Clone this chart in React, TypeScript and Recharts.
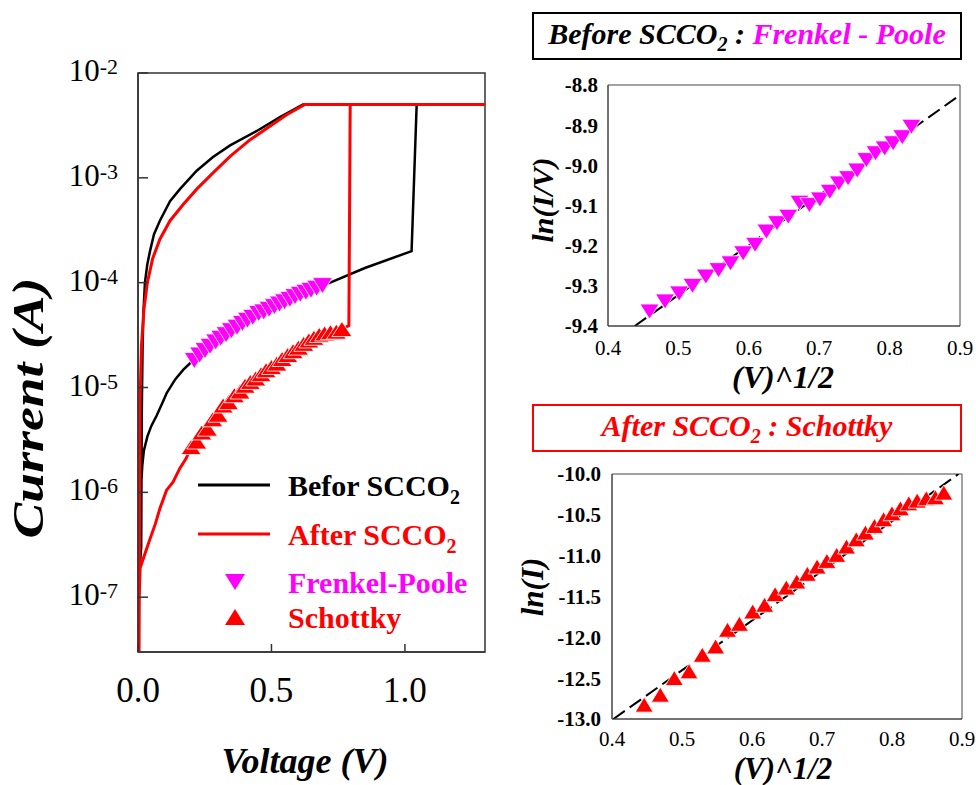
import React from 'react'
import {
  ComposedChart,
  Line,
  Scatter,
  XAxis,
  YAxis,
  ReferenceArea,
  Legend,
} from 'recharts'

const SERIF = '"Liberation Serif", "Times New Roman", Tinos, serif'
const MAGENTA = '#ff00ff'
const RED = '#ff0000'

// main I-V sweep (V, A) — sweep up then back down
const beforV = [0.001, 0.005, 0.012, 0.013, 0.016, 0.022, 0.035, 0.05, 0.07, 0.09, 0.108, 0.14, 0.17, 0.2, 0.3, 0.4, 0.5, 0.6, 0.69, 0.72, 0.85, 1.025, 1.044, 1.3, 0.618, 0.532, 0.445, 0.345, 0.281, 0.22, 0.157, 0.12, 0.082, 0.06, 0.045, 0.035, 0.026, 0.02, 0.017, 0.014, 0.013]
const beforI = [4e-8, 1.7e-7, 3e-7, 1.3e-6, 1.8e-6, 2.5e-6, 3.4e-6, 4.3e-6, 5.4e-6, 7e-6, 8.9e-6, 1.2e-5, 1.48e-5, 1.75e-5, 2.8e-5, 4.1e-5, 5.6e-5, 7.4e-5, 9.4e-5, 1.0e-4, 1.38e-4, 2.0e-4, 5e-3, 5e-3, 5e-3, 3.8e-3, 2.8e-3, 2.04e-3, 1.58e-3, 1.17e-3, 7.8e-4, 6.0e-4, 3.9e-4, 2.9e-4, 2.0e-4, 1.5e-4, 1.0e-4, 5e-5, 2.3e-5, 5.2e-6, 1.3e-6]

const afterV = [0.001, 0.004, 0.008, 0.026, 0.045, 0.065, 0.082, 0.107, 0.131, 0.157, 0.18, 0.199, 0.26, 0.32, 0.4, 0.48, 0.56, 0.64, 0.7, 0.764, 0.79, 0.795, 1.3, 0.625, 0.557, 0.494, 0.419, 0.345, 0.282, 0.22, 0.17, 0.12, 0.082, 0.055, 0.035, 0.022, 0.013, 0.008, 0.006, 0.005, 0.004]
const afterI = [3e-8, 9e-8, 1.9e-7, 2.6e-7, 3.6e-7, 5.0e-7, 7.0e-7, 1.05e-6, 1.25e-6, 1.7e-6, 2.1e-6, 2.7e-6, 4.0e-6, 6.7e-6, 1.04e-5, 1.46e-5, 2.04e-5, 2.8e-5, 3.28e-5, 3.6e-5, 3.9e-5, 5e-3, 5e-3, 5e-3, 4.0e-3, 3.1e-3, 2.3e-3, 1.6e-3, 1.12e-3, 7.8e-4, 5.6e-4, 3.9e-4, 2.6e-4, 1.7e-4, 1.0e-4, 5.5e-5, 2.5e-5, 8e-6, 1e-6, 1.5e-7, 3e-8]

// fitted points shown on the I-V plot
const fpV = [0.211, 0.231, 0.251, 0.27, 0.291, 0.31, 0.33, 0.35, 0.371, 0.391, 0.41, 0.43, 0.452, 0.471, 0.491, 0.511, 0.53, 0.549, 0.569, 0.588, 0.608, 0.629, 0.648, 0.669, 0.691]
const fpI = [1.81e-5, 2.04e-5, 2.25e-5, 2.47e-5, 2.72e-5, 2.95e-5, 3.19e-5, 3.48e-5, 3.76e-5, 4.09e-5, 4.38e-5, 4.67e-5, 5.08e-5, 5.26e-5, 5.57e-5, 5.91e-5, 6.25e-5, 6.56e-5, 6.93e-5, 7.36e-5, 7.74e-5, 8.09e-5, 8.45e-5, 8.86e-5, 9.38e-5]
const skV = [0.199, 0.22, 0.239, 0.26, 0.28, 0.3, 0.319, 0.339, 0.361, 0.382, 0.401, 0.421, 0.441, 0.461, 0.48, 0.5, 0.52, 0.54, 0.561, 0.581, 0.601, 0.621, 0.64, 0.659, 0.679, 0.699, 0.721, 0.743, 0.764]
const skI = [2.7e-6, 3.05e-6, 3.73e-6, 4.05e-6, 4.97e-6, 5.5e-6, 6.74e-6, 7.25e-6, 8.44e-6, 9.16e-6, 1.04e-5, 1.13e-5, 1.22e-5, 1.34e-5, 1.46e-5, 1.57e-5, 1.69e-5, 1.87e-5, 2.04e-5, 2.22e-5, 2.4e-5, 2.61e-5, 2.81e-5, 2.98e-5, 3.17e-5, 3.28e-5, 3.37e-5, 3.41e-5, 3.61e-5]

// insets: x = V^1/2
const fpS = [0.459, 0.481, 0.501, 0.52, 0.539, 0.557, 0.574, 0.592, 0.609, 0.625, 0.64, 0.656, 0.672, 0.686, 0.701, 0.715, 0.728, 0.741, 0.754, 0.767, 0.78, 0.793, 0.805, 0.818, 0.831]
const fpLn = [-9.364, -9.339, -9.319, -9.3, -9.277, -9.261, -9.244, -9.219, -9.198, -9.165, -9.144, -9.128, -9.093, -9.099, -9.085, -9.066, -9.045, -9.032, -9.013, -8.987, -8.97, -8.958, -8.945, -8.93, -8.904]
const fpFitS = [0.438, 0.9]
const fpFitLn = [-9.4, -8.825]

const skS = [0.446, 0.469, 0.489, 0.51, 0.529, 0.548, 0.565, 0.582, 0.601, 0.618, 0.633, 0.649, 0.664, 0.679, 0.693, 0.707, 0.721, 0.735, 0.749, 0.762, 0.775, 0.788, 0.8, 0.812, 0.824, 0.836, 0.849, 0.862, 0.874]
const skLn = [-12.824, -12.702, -12.498, -12.416, -12.213, -12.111, -11.907, -11.834, -11.683, -11.601, -11.471, -11.39, -11.316, -11.222, -11.133, -11.064, -10.99, -10.888, -10.799, -10.717, -10.636, -10.554, -10.481, -10.42, -10.359, -10.326, -10.297, -10.285, -10.228]
const skFitS = [0.402, 0.895]
const skFitLn = [-13.0, -10.0]

const vTicks = [0, 0.5, 1.0]
const iTicks = [1e-7, 1e-6, 1e-5, 1e-4, 1e-3, 1e-2]
const sTicks = [0.4, 0.5, 0.6, 0.7, 0.8, 0.9]
const fpLnTicks = [-9.4, -9.3, -9.2, -9.1, -9.0, -8.9, -8.8]
const skLnTicks = [-13.0, -12.5, -12.0, -11.5, -11.0, -10.5, -10.0]

const zipVI = (v: number[], i: number[]) => v.map((x, k) => ({ v: x, i: i[k] }))
const zipSY = (s: number[], y: number[]) => s.map((x, k) => ({ s: x, y: y[k] }))

const beforData = zipVI(beforV, beforI)
const afterData = zipVI(afterV, afterI)
const fpData = zipVI(fpV, fpI)
const skData = zipVI(skV, skI)
const fpInset = zipSY(fpS, fpLn)
const fpFit = zipSY(fpFitS, fpFitLn)
const skInset = zipSY(skS, skLn)
const skFit = zipSY(skFitS, skFitLn)

function tri(cx: number, cy: number, w: number, h: number, down: boolean) {
  const a = down ? cy - h / 2 : cy + h / 2
  const b = down ? cy + h / 2 : cy - h / 2
  return `M${cx - w / 2},${a} L${cx + w / 2},${a} L${cx},${b} Z`
}

const downTri = (w: number, h: number, color: string) => (p: any) => (
  <path d={tri(p.cx, p.cy, w, h, true)} fill={color} stroke="#fff" strokeWidth={0.8} />
)
const upTri = (w: number, h: number, color: string) => (p: any) => (
  <path d={tri(p.cx, p.cy, w, h, false)} fill={color} stroke="#fff" strokeWidth={0.8} />
)

function LogTick(props: any) {
  const { x, y, payload } = props
  const exp = Math.round(Math.log10(payload.value))
  return (
    <g>
      <line x1={x} x2={x + 10} y1={y} y2={y} stroke="#333" strokeWidth={1.5} />
      <text x={x - 20} y={y + 8} textAnchor="end" fontSize={31} fill="#000" fontFamily={SERIF}>
        10<tspan fontSize={22} dy={-7}>{exp}</tspan>
      </text>
    </g>
  )
}

function VTick(props: any) {
  const { x, y, payload } = props
  return (
    <g>
      <line x1={x} x2={x} y1={y} y2={y - 8} stroke="#333" strokeWidth={1.5} />
      <text x={x} y={y + 38} dy="0.35em" textAnchor="middle" fontSize={35} fill="#000" fontFamily={SERIF}>
        {payload.value.toFixed(1)}
      </text>
    </g>
  )
}

const InsetXTick = (gap: number) => (props: any) => (
  <text x={props.x} y={props.y + gap} dy="0.35em" textAnchor="middle" fontSize={21} fill="#000" fontFamily={SERIF}>
    {props.payload.value.toFixed(1)}
  </text>
)

const InsetYTick = (gap: number) => (props: any) => (
  <text x={props.x - gap} y={props.y} dy="0.35em" textAnchor="end" fontSize={21} fontWeight="bold" fill="#000" fontFamily={SERIF}>
    {props.payload.value.toFixed(1)}
  </text>
)

const legendItems = [
  { label: 'Befor SCCO', sub: '2', color: '#000', kind: 'line' },
  { label: 'After SCCO', sub: '2', color: RED, kind: 'line' },
  { label: 'Frenkel-Poole', sub: '', color: MAGENTA, kind: 'down' },
  { label: 'Schottky', sub: '', color: RED, kind: 'up' },
]
const legendRows = [25, 74, 122, 157]

function MainLegend() {
  return (
    <svg width={300} height={180} style={{ overflow: 'visible' }}>
      {legendItems.map((it, k) => {
        const cy = legendRows[k]
        return (
          <g key={it.label}>
            {it.kind === 'line' ? (
              <line x1={8} x2={80} y1={cy} y2={cy} stroke={it.color} strokeWidth={3} />
            ) : (
              <path d={tri(45, cy, 20, 16, it.kind === 'down')} fill={it.color} />
            )}
            <text x={98} y={cy + 8} dy="0.1em" fontSize={30} fontWeight="bold" fill={it.color} fontFamily={SERIF}>
              {it.label}
              {it.sub && <tspan fontSize={20} dy={8}>{it.sub}</tspan>}
            </text>
          </g>
        )
      })}
    </svg>
  )
}

const titleText: React.CSSProperties = {
  fontFamily: SERIF,
  fontWeight: 'bold',
  fontStyle: 'italic',
  fontSize: 30,
  whiteSpace: 'nowrap',
}
const subStyle: React.CSSProperties = { fontSize: 20, position: 'relative', top: 7 }

function TitleBox({ top, border, children }: { top: number; border: string; children: React.ReactNode }) {
  return (
    <div
      style={{
        position: 'absolute',
        left: 532,
        top,
        width: 430,
        height: 48,
        boxSizing: 'border-box',
        border: `2px solid ${border}`,
        display: 'flex',
        alignItems: 'center',
        justifyContent: 'center',
        ...titleText,
      }}
    >
      <span style={{ position: 'relative', top: -2 }}>{children}</span>
    </div>
  )
}

const axisTitle = {
  fontFamily: SERIF,
  fontWeight: 'bold',
  fontStyle: 'italic',
  fill: '#000',
} as const

export default function App() {
  return (
    <div style={{ position: 'relative', width: 976, height: 785, background: '#fff', overflow: 'hidden' }}>
      <style>{'body{margin:0}'}</style>

      {/* main I-V plot */}
      <div style={{ position: 'absolute', left: 0, top: 0 }}>
        <ComposedChart width={500} height={785} margin={{ top: 73, right: 15, bottom: 0, left: 0 }}>
          <XAxis
            type="number"
            dataKey="v"
            domain={[0, 1.3]}
            ticks={vTicks}
            interval={0}
            height={133}
            tickSize={0}
            tickMargin={0}
            tickLine={false}
            axisLine={{ stroke: '#333', strokeWidth: 1.5 }}
            tick={(p: any) => <VTick {...p} />}
            allowDataOverflow
          />
          <YAxis
            type="number"
            dataKey="i"
            scale="log"
            domain={[3e-8, 1e-2]}
            ticks={iTicks}
            interval={0}
            width={138}
            tickSize={0}
            tickMargin={0}
            tickLine={false}
            axisLine={{ stroke: '#333', strokeWidth: 1.5 }}
            tick={(p: any) => <LogTick {...p} />}
            allowDataOverflow
          />
          <ReferenceArea x1={0} x2={1.3} y1={3e-8} y2={1e-2} fill="none" stroke="#333" strokeWidth={1.5} />
          <Line data={beforData} dataKey="i" type="linear" stroke="#000" strokeWidth={2.5} dot={false} isAnimationActive={false} />
          <Line data={afterData} dataKey="i" type="linear" stroke={RED} strokeWidth={3} dot={false} isAnimationActive={false} />
          <Scatter data={fpData} dataKey="i" shape={downTri(20, 16, MAGENTA)} isAnimationActive={false} />
          <Scatter data={skData} dataKey="i" shape={upTri(20, 15, RED)} isAnimationActive={false} />
          <Legend
            layout="vertical"
            align="center"
            verticalAlign="middle"
            wrapperStyle={{ left: 190, top: 460, width: 300 }}
            content={() => <MainLegend />}
          />
        </ComposedChart>
      </div>

      {/* inset: before, Frenkel-Poole */}
      <div style={{ position: 'absolute', left: 520, top: 0 }}>
        <ComposedChart width={456} height={400} margin={{ top: 85, right: 16, bottom: 0, left: 0 }}>
          <XAxis
            type="number"
            dataKey="s"
            domain={[0.4, 0.9]}
            ticks={sTicks}
            interval={0}
            height={74}
            tickSize={0}
            tickMargin={0}
            tickLine={false}
            axisLine={{ stroke: '#444' }}
            tick={InsetXTick(22)}
            allowDataOverflow
          />
          <YAxis
            type="number"
            dataKey="y"
            domain={[-9.4, -8.8]}
            ticks={fpLnTicks}
            interval={0}
            width={88}
            tickSize={0}
            tickMargin={0}
            tickLine={false}
            axisLine={{ stroke: '#444' }}
            tick={InsetYTick(10)}
            allowDataOverflow
          />
          <ReferenceArea x1={0.4} x2={0.9} y1={-9.4} y2={-8.8} fill="none" stroke="#444" />
          <Line data={fpFit} dataKey="y" type="linear" stroke="#000" strokeWidth={2} strokeDasharray="14 6" dot={false} isAnimationActive={false} />
          <Scatter data={fpInset} dataKey="y" shape={downTri(19, 15, MAGENTA)} isAnimationActive={false} />
        </ComposedChart>
      </div>

      {/* inset: after, Schottky */}
      <div style={{ position: 'absolute', left: 520, top: 400 }}>
        <ComposedChart width={456} height={385} margin={{ top: 74, right: 14, bottom: 0, left: 0 }}>
          <XAxis
            type="number"
            dataKey="s"
            domain={[0.4, 0.9]}
            ticks={sTicks}
            interval={0}
            height={66}
            tickSize={0}
            tickMargin={0}
            tickLine={false}
            axisLine={{ stroke: '#444' }}
            tick={InsetXTick(20)}
            allowDataOverflow
          />
          <YAxis
            type="number"
            dataKey="y"
            domain={[-13, -10]}
            ticks={skLnTicks}
            interval={0}
            width={92}
            tickSize={0}
            tickMargin={0}
            tickLine={false}
            axisLine={{ stroke: '#444' }}
            tick={InsetYTick(11)}
            allowDataOverflow
          />
          <ReferenceArea x1={0.4} x2={0.9} y1={-13} y2={-10} fill="none" stroke="#444" />
          <Line data={skFit} dataKey="y" type="linear" stroke="#000" strokeWidth={2} strokeDasharray="14 6" dot={false} isAnimationActive={false} />
          <Scatter data={skInset} dataKey="y" shape={upTri(18, 15, RED)} isAnimationActive={false} />
        </ComposedChart>
      </div>

      <TitleBox top={12} border="#000">
        <span style={{ color: '#000' }}>
          Before SCCO<span style={subStyle}>2</span> :{' '}
        </span>
        <span style={{ color: MAGENTA }}>Frenkel - Poole</span>
      </TitleBox>
      <TitleBox top={404} border={RED}>
        <span style={{ color: RED }}>
          After SCCO<span style={subStyle}>2</span> : Schottky
        </span>
      </TitleBox>

      {/* axis titles */}
      <svg width={976} height={785} style={{ position: 'absolute', left: 0, top: 0, pointerEvents: 'none' }}>
        <text
          x={43}
          y={408}
          transform="rotate(-90 43 408)"
          textAnchor="middle"
          fontSize={44}
          textLength={261}
          lengthAdjust="spacingAndGlyphs"
          {...axisTitle}
        >
          Current (A)
        </text>
        <text x={305} y={773} textAnchor="middle" fontSize={36} {...axisTitle}>
          Voltage (V)
        </text>
        <text x={553} y={200} transform="rotate(-90 553 200)" textAnchor="middle" fontSize={30} {...axisTitle}>
          ln(I/V)
        </text>
        <text x={783} y={388} textAnchor="middle" fontSize={32} {...axisTitle}>
          (V)^1/2
        </text>
        <text x={543} y={587} transform="rotate(-90 543 587)" textAnchor="middle" fontSize={31} {...axisTitle}>
          ln(I)
        </text>
        <text x={783} y={779} textAnchor="middle" fontSize={31} {...axisTitle}>
          (V)^1/2
        </text>
      </svg>
    </div>
  )
}
